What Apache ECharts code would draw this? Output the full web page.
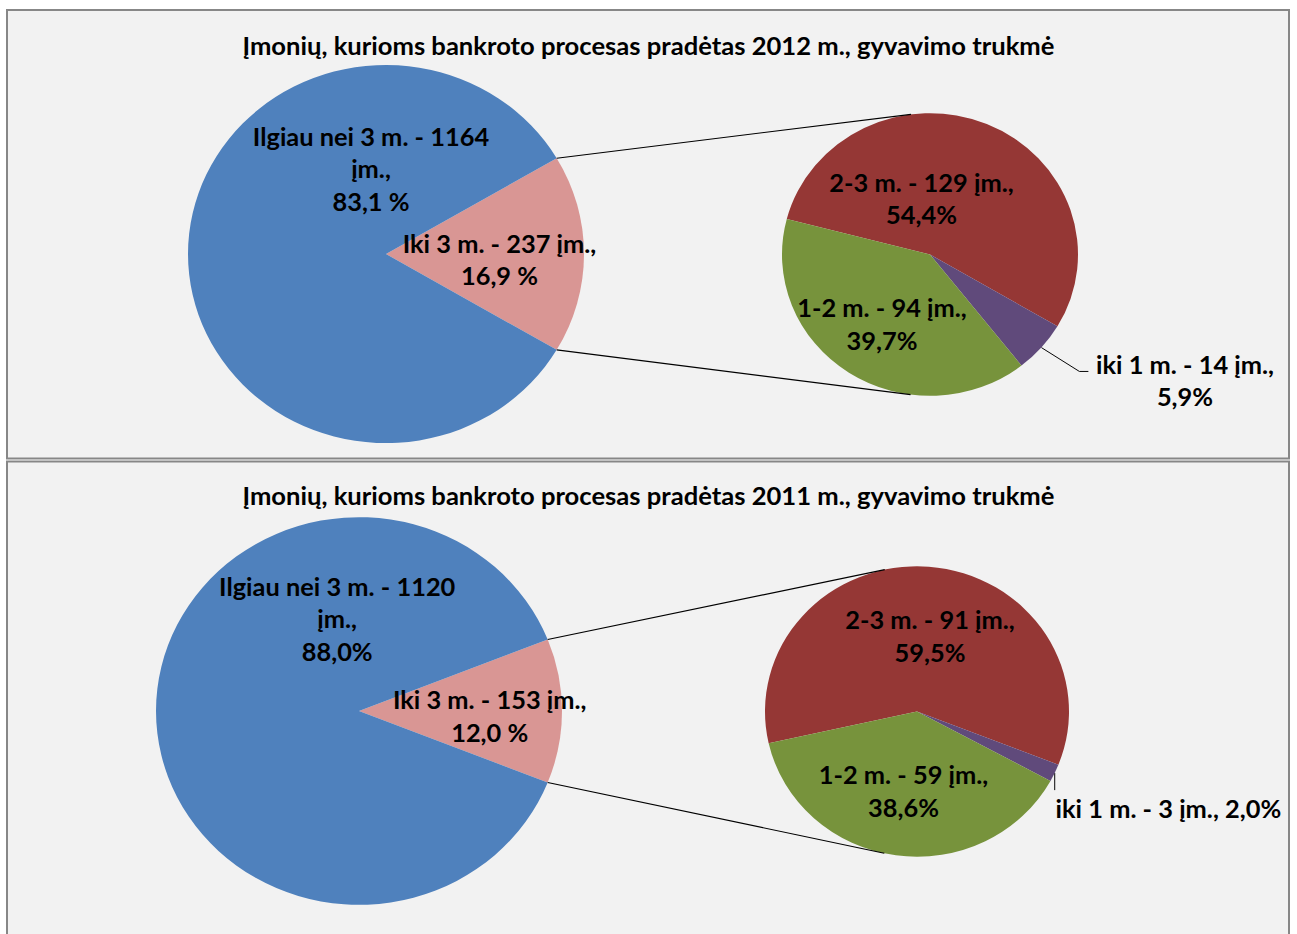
<!DOCTYPE html>
<html><head><meta charset="utf-8">
<script src="https://cdn.jsdelivr.net/npm/echarts@6/dist/echarts.min.js"></script>
<style>
html,body{margin:0;padding:0;background:#fff;overflow:hidden;}
#wrap{width:1297px;height:934px;overflow:hidden;}
#chart{width:1297px;height:978px;transform:scale(1,0.955);transform-origin:0 0;}
</style></head><body><div id="wrap"><div id="chart"></div></div>
<script>
// ---------- data ----------
const titles = [
  'Įmonių, kurioms bankroto procesas pradėtas 2012 m., gyvavimo trukmė',
  'Įmonių, kurioms bankroto procesas pradėtas 2011 m., gyvavimo trukmė'
];
const mainCategories = ['Iki 3 m.', 'Ilgiau nei 3 m.'];
const subCategories = ['2-3 m.', 'iki 1 m.', '1-2 m.'];
const main2012 = [237, 1164];
const sub2012 = [129, 14, 94];
const main2011 = [153, 1120];
const sub2011 = [91, 3, 59];
const mainFormats2012 = ['{n} - {v} įm.,\n{p} %', '{n} - {v}\nįm.,\n{p} %'];
const subFormats2012 = ['{n} - {v} įm.,\n{p}%', '{n} - {v} įm.,\n{p}%', '{n} - {v} įm.,\n{p}%'];
const mainFormats2011 = ['{n} - {v} įm.,\n{p} %', '{n} - {v}\nįm.,\n{p}%'];
const subFormats2011 = ['{n} - {v} įm.,\n{p}%', '{n} - {v} įm., {p}%', '{n} - {v} įm.,\n{p}%'];

// ---------- styles / layout ----------
const mainColors = ['#d99694', '#4f81bd'];
const subColors = ['#953735', '#604a7b', '#77933c'];
const FONT = 'Lato';
const LABEL_SIZE = 25.4, LABEL_LH = 34, TITLE_SIZE = 25.6;
const panels = [
  { y: 10.5, h: 469.6, titleY: 47,
    main: { c: [386, 266], r: 198, off: [[113.5, 5.4], [-15, -89.7]] },
    sub: { c: [930, 266.5], r: 148, start: 165.4, off: [[-8.5, -59.2], [255, 131.4], [-48, 72.5]], leader: [[38, 25], [47, 25]] },
    mainData: main2012, subData: sub2012, mainFmt: mainFormats2012, subFmt: subFormats2012 },
  { y: 483.2, h: 600, titleY: 518.3,
    main: { c: [359, 744.5], r: 203, off: [[130.7, 5.1], [-21.8, -97]] },
    sub: { c: [917, 745], r: 152, start: 192.6, off: [[13, -79.2], [251.4, 101.4], [-13.5, 83.1]], leader: [[0, 18]] },
    mainData: main2011, subData: sub2011, mainFmt: mainFormats2011, subFmt: subFormats2011 }
];

function sum(a) { return a.reduce((s, v) => s + v, 0); }
function pct(v, arr) { return (v / sum(arr) * 100).toFixed(1).replace('.', ','); }
function fmt(tpl, n, v, p) { return tpl.replace('{n}', n).replace('{v}', v).replace('{p}', p); }
const rad = Math.PI / 180;

const labelStyle = { show: true, position: 'inside', color: '#000', fontFamily: FONT, fontWeight: 'bold', fontSize: LABEL_SIZE, lineHeight: LABEL_LH };

const series = [];
const graphic = [];

panels.forEach((P, pi) => {
  graphic.push({ type: 'rect', z: 0, shape: { x: 7, y: P.y, width: 1282, height: P.h },
    style: { fill: '#f2f2f2', stroke: '#878787', lineWidth: 2 }, silent: true });

  const mainStart = 180 * P.mainData[0] / sum(P.mainData);
  series.push({
    type: 'pie', center: P.main.c, radius: P.main.r, startAngle: mainStart, clockwise: true,
    avoidLabelOverlap: false, silent: true, animation: false,
    itemStyle: { borderWidth: 0 },
    label: Object.assign({}, labelStyle, { formatter: p => fmt(P.mainFmt[p.dataIndex], p.name, p.value, pct(p.value, P.mainData)) }),
    labelLine: { show: false },
    labelLayout: p => {
      const o = P.main.off[p.dataIndex];
      return { x: P.main.c[0] + o[0], y: P.main.c[1] + o[1], align: 'center', verticalAlign: 'middle' };
    },
    data: P.mainData.map((v, i) => ({ value: v, name: mainCategories[i], itemStyle: { color: mainColors[i] } }))
  });

  const subSum = sum(P.subData);
  series.push({
    type: 'pie', center: P.sub.c, radius: P.sub.r, startAngle: P.sub.start, clockwise: true,
    avoidLabelOverlap: false, silent: true, animation: false,
    itemStyle: { borderWidth: 0 },
    label: Object.assign({}, labelStyle, { formatter: p => fmt(P.subFmt[p.dataIndex], p.name, p.value, pct(p.value, P.subData)) }),
    labelLine: { show: false },
    labelLayout: p => {
      const i = p.dataIndex;
      const o = P.sub.off[i];
      const res = { x: P.sub.c[0] + o[0], y: P.sub.c[1] + o[1], align: 'center', verticalAlign: 'middle' };
      if (i === 1) {
        const cum = P.subData[0] + P.subData[1] / 2;
        const a = (P.sub.start - cum / subSum * 360) * rad;
        const E = [P.sub.c[0] + P.sub.r * Math.cos(a), P.sub.c[1] - P.sub.r * Math.sin(a)];
        res.labelLinePoints = [E].concat(P.sub.leader.map(d => [E[0] + d[0], E[1] + d[1]]));
      }
      return res;
    },
    data: P.subData.map((v, i) => {
      const d = { value: v, name: subCategories[i], itemStyle: { color: subColors[i] } };
      if (i === 1) {
        d.label = { position: 'outside' };
        d.labelLine = { show: true, length: 20, length2: 10, lineStyle: { color: '#000', width: 1 } };
      }
      return d;
    })
  });

  // connector (tangent) lines from the small slice of the main pie to the secondary pie
  const h = mainStart * rad;
  [1, -1].forEach(sgn => {
    const Px = P.main.c[0] + P.main.r * Math.cos(h);
    const Py = P.main.c[1] - sgn * P.main.r * Math.sin(h);
    const dx = Px - P.sub.c[0], dy = -(Py - P.sub.c[1]);
    const dist = Math.sqrt(dx * dx + dy * dy);
    const phi = Math.atan2(dy, dx);
    const th = phi - sgn * Math.acos(P.sub.r / dist);
    const Tx = P.sub.c[0] + P.sub.r * Math.cos(th);
    const Ty = P.sub.c[1] - P.sub.r * Math.sin(th);
    graphic.push({ type: 'line', z: 10, silent: true, shape: { x1: Px, y1: Py, x2: Tx, y2: Ty },
      style: { stroke: '#000', lineWidth: 1.2 } });
  });
});

const chart = echarts.init(document.getElementById('chart'), null, { renderer: 'svg' });
chart.setOption({
  animation: false,
  backgroundColor: '#ffffff',
  title: titles.map((t, i) => ({
    text: t, left: 'center', top: panels[i].titleY - 15, padding: 0,
    textStyle: { fontFamily: FONT, fontWeight: 'bold', fontSize: TITLE_SIZE, lineHeight: 30, color: '#000' }
  })),
  graphic: graphic,
  series: series
});
</script></body></html>
